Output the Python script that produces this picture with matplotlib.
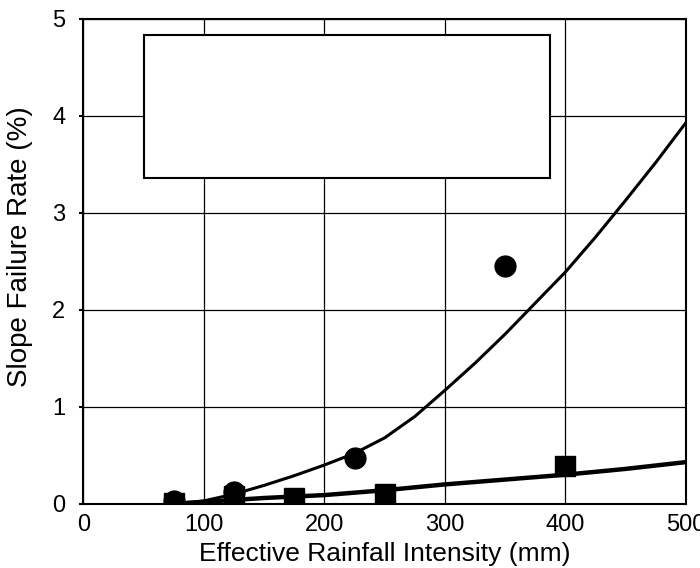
import matplotlib
matplotlib.use("Agg")
import matplotlib.pyplot as plt
from matplotlib.patches import Rectangle

plt.rcParams["font.family"] = ["Liberation Sans", "DejaVu Sans"]

# fitted curves
upper_x = [75, 100, 125, 150, 175, 200, 225, 250, 275, 300, 325, 350, 375, 400, 425, 450, 475, 500]
upper_y = [0.0, 0.03, 0.1, 0.19, 0.29, 0.4, 0.52, 0.68, 0.9, 1.17, 1.45, 1.75, 2.07, 2.39, 2.75, 3.13, 3.52, 3.93]

lower_x = [75, 100, 125, 150, 200, 250, 300, 350, 400, 450, 500]
lower_y = [0.0, 0.02, 0.04, 0.06, 0.09, 0.14, 0.2, 0.25, 0.3, 0.36, 0.43]

# observations
circle_x = [75, 125, 225, 350]
circle_y = [0.03, 0.12, 0.47, 2.45]

square_x = [75, 125, 175, 250, 400]
square_y = [0.01, 0.08, 0.06, 0.1, 0.39]

fig = plt.figure(figsize=(7.0, 5.68), dpi=100)
ax = fig.add_axes([0.119, 0.113, 0.861, 0.854])

ax.plot(upper_x, upper_y, color="black", lw=2.2, zorder=3)
ax.plot(lower_x, lower_y, color="black", lw=3.2, zorder=3)
ax.plot(circle_x, circle_y, "o", color="black", ms=15, zorder=4)
ax.plot(square_x, square_y, "s", color="black", ms=14, zorder=5)

ax.set_xlim(0, 500)
ax.set_ylim(0, 5)
ax.set_xticks([0, 100, 200, 300, 400, 500])
ax.set_yticks([0, 1, 2, 3, 4, 5])
ax.grid(True, color="black", lw=0.9)
ax.tick_params(axis="x", labelsize=17, length=0, pad=7)
ax.tick_params(axis="y", labelsize=17, length=3, width=1.5, direction="out", pad=10)
for s in ax.spines.values():
    s.set_linewidth(1.5)

ax.set_xlabel("Effective Rainfall Intensity (mm)", fontsize=19)
ax.set_ylabel("Slope Failure Rate (%)", fontsize=20)
ax.xaxis.set_label_coords(0.5, -0.078)
ax.yaxis.set_label_coords(-0.083, 0.53)

# empty legend frame
ax.add_patch(Rectangle((0.10, 0.672), 0.675, 0.295, transform=ax.transAxes,
                       facecolor="white", edgecolor="black", lw=1.5, zorder=6))

fig.savefig("out.png", dpi=100)
